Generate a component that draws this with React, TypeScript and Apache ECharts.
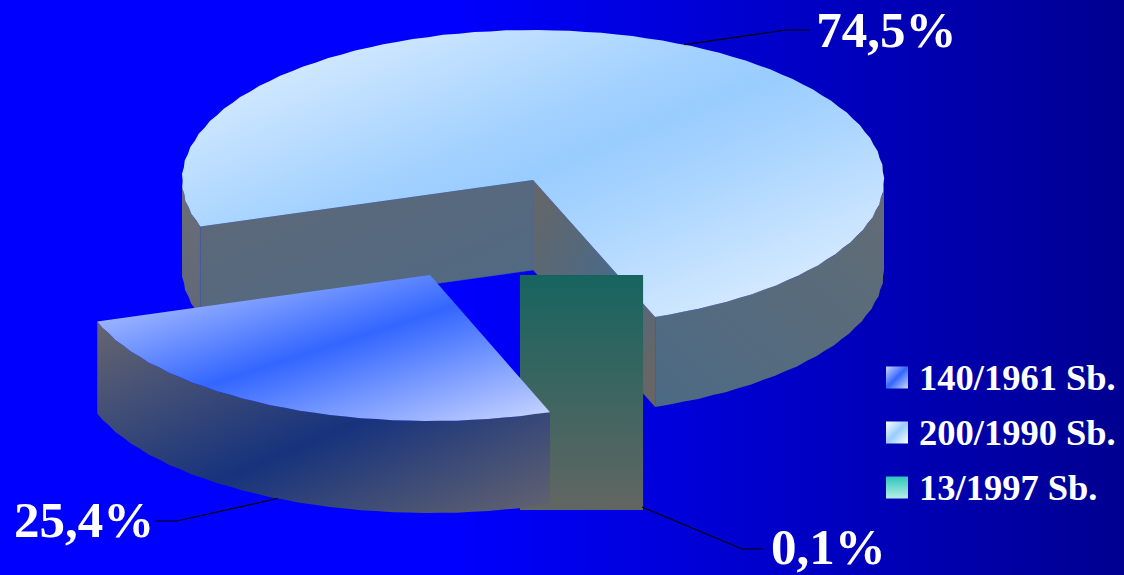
import React, { useEffect, useRef } from "react";
import * as echarts from "echarts";

const legendNames = ["140/1961 Sb.", "200/1990 Sb.", "13/1997 Sb."];
const shares = [25.4, 74.5, 0.1];
const shareLabels = ["25,4%", "74,5%", "0,1%"];

const FONT = "'Liberation Serif', 'Times New Roman', serif";
const START = 70;
const RX = 351;
const RY_BACK = 150;
const RY_FRONT = 146;
const DEPTH_BIG = 90;
const DEPTH_FRONT = 92;
const W = 1124;
const H = 575;

const grad = (x: number, y: number, x2: number, y2: number, stops: [number, string][]) =>
  new echarts.graphic.LinearGradient(x, y, x2, y2, stops.map(([offset, color]) => ({ offset, color })));

const angles = (() => {
  const total = shares.reduce((a, b) => a + b, 0);
  let a = START;
  return shares.map((s) => {
    const from = a;
    a += (s / total) * 360;
    return { from, to: a, mid: (from + a) / 2 };
  });
})();

type P = [number, number];
const rim = (c: P, deg: number, dy = 0, k = 1): P => {
  const r = (deg * Math.PI) / 180;
  const s = Math.sin(r);
  return [c[0] + RX * k * Math.cos(r), c[1] + (s > 0 ? RY_FRONT : RY_BACK) * k * s + dy];
};
// The outline is slightly rough, as in the source raster.
const arc = (c: P, from: number, to: number, dy = 0): P[] => {
  const out: P[] = [];
  const n = Math.max(1, Math.round((to - from) / 2.6));
  for (let i = 0; i <= n; i++) {
    const k = i === 0 || i === n ? 1 : i % 2 ? 0.9982 : 1.0008;
    out.push(rim(c, from + ((to - from) * i) / n, dy, k));
  }
  return out;
};
const side = (c: P, from: number, to: number, depth: number): P[] => [
  ...arc(c, from, to),
  ...arc(c, from, to, depth).reverse(),
];

const poly = (points: P[], fill: any, extra: any = {}) => ({
  type: "polygon",
  silent: true,
  shape: { points },
  style: { fill, ...extra },
});
const leader = (points: P[]) => ({
  type: "polyline",
  silent: true,
  shape: { points },
  style: { stroke: "#000000", lineWidth: 1.2, fill: "none" },
});
const label = (text: string, x: number, y: number) => ({
  type: "text",
  silent: true,
  style: { text, x, y, fill: "#ffffff", font: `bold 51px ${FONT}`, textAlign: "left" },
});

const BIG_C: P = [533, 180];
const BLUE_C: P = [430, 275];
const TEAL_C: P = [521, 275];

const bigStops: [number, string][] = [[0, "#e8f3ff"], [0.4, "#a4d2ff"], [0.5, "#99ccff"], [0.62, "#a8d4ff"], [1, "#e8f3ff"]];
const blueStops: [number, string][] = [[0, "#ccd8ff"], [0.5, "#3366ff"], [1, "#ccd8ff"]];

function renderBig() {
  const { from, to, mid } = angles[1];
  const c = BIG_C;
  const d = DEPTH_BIG;
  const a = rim(c, mid);
  const rightEnd = to - 360;
  return {
    type: "group",
    children: [
      poly(side(c, from, 180, d), grad(0, 0, 0, 1, [[0, "#6a6e76"], [1, "#606878"]])),
      poly(side(c, 0, rightEnd, d), grad(0, 1, 1, 0, [[0, "#4c6a85"], [1, "#626c74"]])),
      poly([c, rim(c, from), rim(c, from, d), [c[0], c[1] + d]], grad(0, 0, 1, 1, [[0, "#5e6878"], [1, "#4f6a84"]]), { stroke: "#4a60a0", lineWidth: 0.6 }),
      poly([c, [c[0], c[1] + d], rim(c, rightEnd, d), rim(c, rightEnd)], grad(0, 0, 1, 1, [[0, "#666666"], [0.55, "#4a6a88"], [0.9, "#666666"], [1, "#666666"]])),
      poly([c, ...arc(c, from, to)], grad(0, 0, 1, 1, bigStops)),
      leader([a, [a[0] + 102, 30], [a[0] + 125, 30]]),
      label(shareLabels[1], a[0] + 132, 4),
    ],
  };
}

function renderTeal() {
  const { mid } = angles[2];
  const c = TEAL_C;
  const e = rim(c, mid, DEPTH_FRONT);
  const x2 = e[0] + 1;
  const y2 = e[1] + 6;
  return {
    type: "group",
    children: [
      {
        type: "rect",
        silent: true,
        shape: { x: c[0] - 1, y: c[1], width: x2 - c[0] + 1, height: y2 - c[1] },
        style: { fill: grad(0, 0, 0, 1, [[0, "#17645f"], [1, "#626662"]]) },
      },
      leader([[x2 - 1, y2 - 3], [x2 + 99, 549], [x2 + 120, 549]]),
      label(shareLabels[2], x2 + 128, 521),
    ],
  };
}

function renderBlue() {
  const { from, to, mid } = angles[0];
  const c = BLUE_C;
  const a = rim(c, mid, DEPTH_FRONT);
  return {
    type: "group",
    children: [
      poly(side(c, from, to, DEPTH_FRONT), grad(0, 0, 1, 1, [[0, "#666670"], [0.55, "#17337d"], [1, "#646470"]])),
      poly([c, ...arc(c, from, to)], grad(0, 0, 1, 1, blueStops)),
      leader([[a[0], a[1]], [a[0] - 101, 521], [a[0] - 123, 521]]),
      label(shareLabels[0], 14, 494),
    ],
  };
}

export default function App() {
  const ref = useRef<HTMLDivElement>(null);
  useEffect(() => {
    document.body.style.margin = "0";
    const chart = echarts.init(ref.current!, undefined, { renderer: "svg" });
    const series = (i: number, z: number, render: () => any) => ({
      type: "custom",
      name: legendNames[i],
      coordinateSystem: "none",
      z,
      silent: true,
      data: [shares[i]],
      renderItem: render,
    });
    chart.setOption({
      animation: false,
      backgroundColor: grad(0, 0, 1, 0, [[0, "#0000ff"], [0.4, "#0000ff"], [1, "#000090"]]),
      legend: {
        orient: "vertical",
        left: 886,
        top: 359,
        padding: 0,
        itemWidth: 22,
        itemHeight: 22,
        itemGap: 18,
        icon: "rect",
        selectedMode: false,
        textStyle: { color: "#ffffff", fontFamily: FONT, fontWeight: "bold", fontSize: 36.5, lineHeight: 36, padding: [0, 0, 0, 6] },
        data: [
          { name: legendNames[0], itemStyle: { color: grad(0, 0, 1, 1, blueStops) } },
          { name: legendNames[1], itemStyle: { color: grad(0, 0, 1, 1, [[0, "#ffffff"], [0.5, "#99ccff"], [1, "#ffffff"]]) } },
          { name: legendNames[2], itemStyle: { color: grad(0, 0, 0, 1, [[0, "#2cc6bb"], [1, "#b8eee8"]]) } },
        ],
      },
      series: [series(1, 1, renderBig), series(2, 2, renderTeal), series(0, 3, renderBlue)],
    });
    return () => chart.dispose();
  }, []);
  return <div ref={ref} style={{ position: "absolute", left: 0, top: 0, width: W, height: H }} />;
}
